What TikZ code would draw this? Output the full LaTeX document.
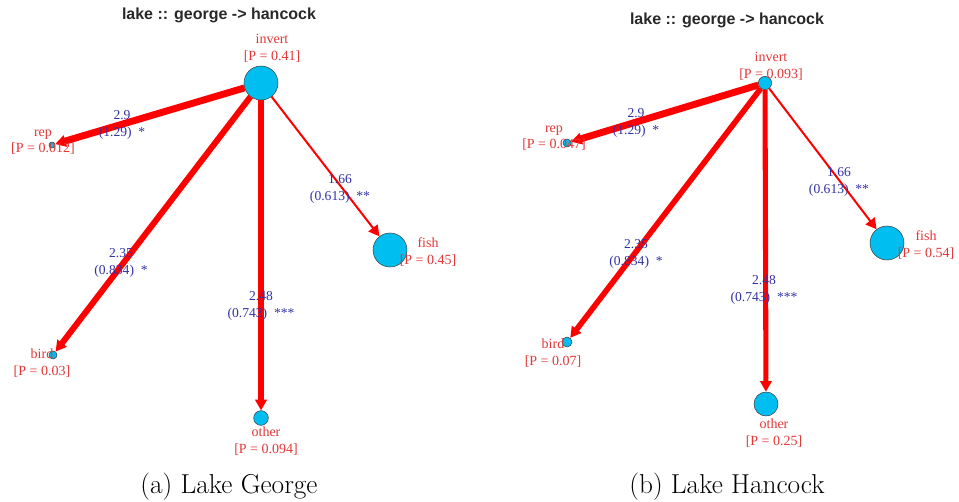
\documentclass[tikz,border=0pt]{standalone}
\usepackage{fontspec}
\newfontfamily\lblfont{Liberation Serif}
\newfontfamily\ttlfont{Liberation Sans}
\usetikzlibrary{arrows.meta}
\definecolor{nodecyan}{RGB}{0,190,240}
\definecolor{edgered}{RGB}{255,0,0}
\definecolor{labred}{RGB}{225,55,55}
\definecolor{labblue}{RGB}{50,50,165}
\definecolor{titlegray}{RGB}{40,40,40}
\begin{document}
\begin{tikzpicture}[x=0.75pt,y=-0.75pt,
  vert/.style={circle, draw=black!75, line width=0.4pt, fill=nodecyan, inner sep=0pt, minimum size=#1},
  plab/.style={text=labred, font=\lblfont\fontsize{10.5}{12.5}\selectfont, align=center, inner sep=0pt},
  elab/.style={text=labblue, font=\lblfont\fontsize{10.2}{12.5}\selectfont, align=center, inner sep=0pt},
  ttl/.style={text=titlegray, font=\ttlfont\bfseries\fontsize{12}{14}\selectfont, inner sep=0pt},
  capt/.style={font=\fontsize{20.5}{24}\selectfont, inner sep=0pt},
  link/.style={draw=edgered, line width=#1, -{Triangle[length=8pt,width=8.5pt]}}
]
\useasboundingbox (0,0) rectangle (959,502);

% ---------- left panel ----------
\node[ttl] (ta) at (219,15) {lake :: george -> hancock};
\node[vert=25.5pt] (ainv) at (261,83) {};
\node[vert=4.5pt] (arep) at (52,145) {};
\node[vert=25.5pt] (afish) at (390,250) {};
\node[vert=6pt] (abird) at (53,355) {};
\node[vert=11pt] (aoth) at (261,418) {};

\draw[link=5.2pt] (ainv) -- (arep);
\draw[link=4.5pt] (ainv) -- (abird);
\draw[link=3.8pt] (ainv) -- (aoth);
\draw[link=1.5pt] (ainv) -- (afish);

\node[plab] (lainv) at (272,48.5) {invert\\{}[P = 0.41]};
\node[plab] (larep) at (43,142) {rep\\{}[P = 0.012]};
\node[plab] (lafish) at (428,252) {fish\\{}[P = 0.45]};
\node[plab] (labird) at (42,363) {bird\\{}[P = 0.03]};
\node[plab] (laoth) at (266,441) {other\\{}[P = 0.094]};

\node[elab] (earep) at (122,125) {2.9\\(1.29)\ \ *};
\node[elab] (eabird) at (121,263) {2.35\\(0.834)\ \ *};
\node[elab] (eaoth) at (261,306) {2.48\\(0.743)\ \ ***};
\node[elab] (eafish) at (340,189) {1.66\\(0.613)\ \ **};

\node[capt] (ca) at (229,487) {(a) Lake George};

% ---------- right panel ----------
\node[ttl] (tb) at (727,20) {lake :: george -> hancock};
\node[vert=10pt] (binv) at (765,83) {};
\node[vert=6pt] (brep) at (567,143) {};
\node[vert=25.5pt] (bfish) at (887,243) {};
\node[vert=7.5pt] (bbird) at (567,342) {};
\node[vert=18pt] (both) at (766,404) {};

\draw[link=5.2pt] (binv) -- (brep);
\draw[link=4.2pt] (binv) -- (bbird);
\draw[link=3.8pt] (binv) -- (both);
\draw[link=1.5pt] (binv) -- (bfish);

\node[plab] (lbinv) at (771,66) {invert\\{}[P = 0.093]};
\node[plab] (lbrep) at (554,138) {rep\\{}[P = 0.047]};
\node[plab] (lbfish) at (926,245) {fish\\{}[P = 0.54]};
\node[plab] (lbbird) at (553,353) {bird\\{}[P = 0.07]};
\node[plab] (lboth) at (774,433) {other\\{}[P = 0.25]};

\node[elab] (ebrep) at (636,123) {2.9\\(1.29)\ \ *};
\node[elab] (ebbird) at (636,254) {2.35\\(0.834)\ \ *};
\node[elab] (eboth) at (764,290) {2.48\\(0.743)\ \ ***};
\node[elab] (ebfish) at (839,182) {1.66\\(0.613)\ \ **};

\node[capt] (cb) at (727,487) {(b) Lake Hancock};
\end{tikzpicture}
\end{document}
